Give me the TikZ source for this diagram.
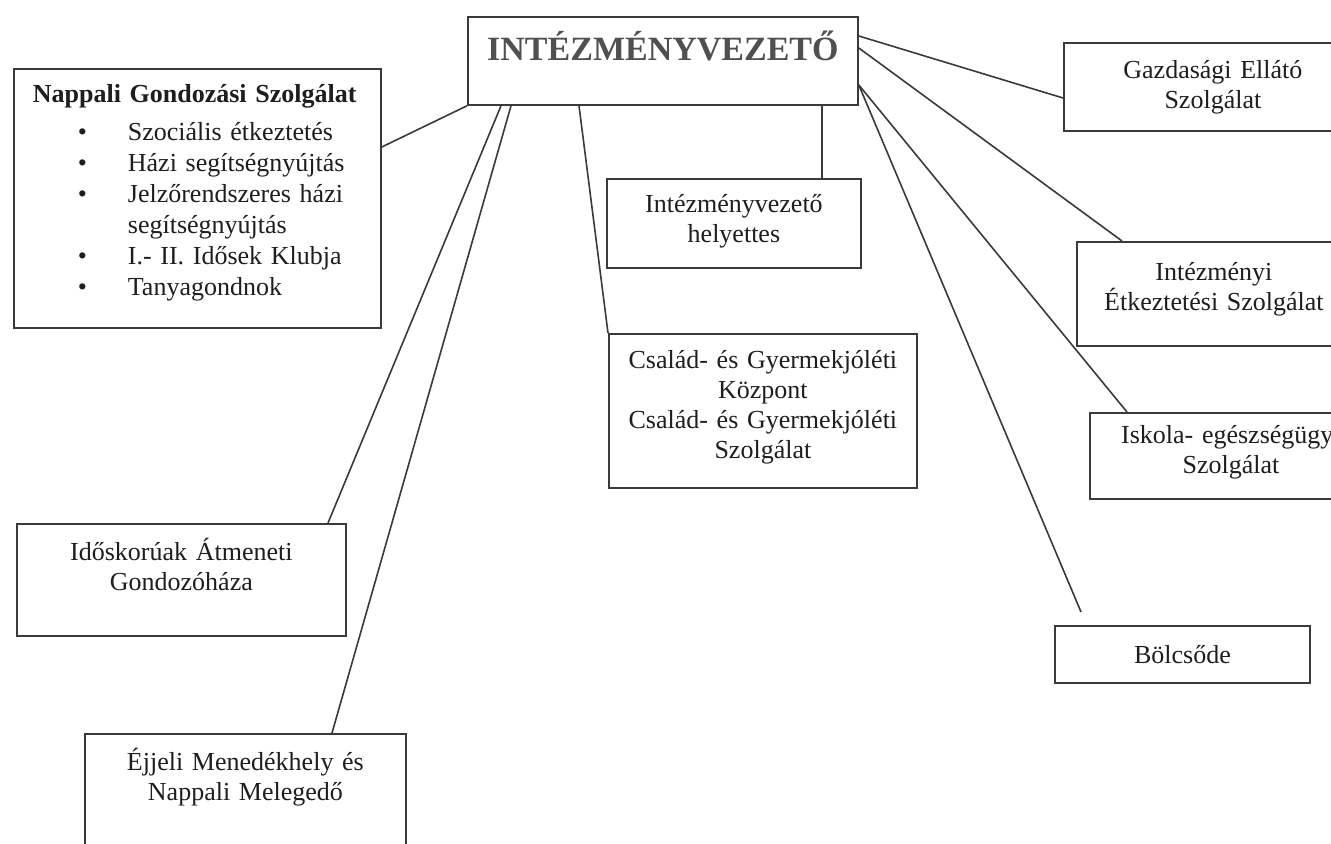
\documentclass[tikz,border=0pt]{standalone}
\usepackage{fontspec}
\setmainfont{Liberation Serif}
\usetikzlibrary{calc}

\definecolor{vonal}{HTML}{3A3A3A}
\definecolor{felirat}{HTML}{1E1E1E}
\definecolor{fejszurke}{HTML}{4F5050}

\newcommand{\listapont}{\makebox[57pt][l]{\hspace*{32pt}\textbullet}}

\tikzset{
  egyseg/.style={
    draw = vonal,
    line width = 0.9pt,
    rectangle,
    inner sep = 0pt,
    align = center,
    anchor = north west,
    text = felirat,
    font = \fontsize{13}{15}\selectfont
  },
  kapcsolat/.style={draw = vonal, line width = 0.8pt}
}

\begin{document}
\begin{tikzpicture}[x=0.5pt, y=-0.5pt]
    \useasboundingbox (0,0) rectangle (1331,844);
    \clip (0,0) rectangle (1331,844);
    \fill[white] (0,0) rectangle (1331,844);

    \node[
    egyseg,
    text width = 195pt,
    text height = 22pt,
    text depth = 22pt,
    text = fejszurke,
    font = \fontsize{17}{20}\selectfont\bfseries
    ] (vezeto) at (467,16){INTÉZMÉNYVEZETŐ};

    \node[
    egyseg,
    align = left,
    text width = 183.5pt,
    text height = 17pt,
    text depth = 112.5pt,
    font = \fontsize{13}{15.5}\selectfont
    ] (nappali) at (13,68){{\bfseries\hspace*{9.5pt}Nappali Gondozási Szolgálat}\\[3.5pt]
      \listapont Szociális étkeztetés\\
      \listapont Házi segítségnyújtás\\
      \listapont Jelzőrendszeres házi\\
      \hspace*{57pt}segítségnyújtás\\
      \listapont I.- II. Idősek Klubja\\
      \listapont Tanyagondnok};

    \node[
    egyseg,
    text width = 127pt,
    text height = 17pt,
    text depth = 27.5pt
    ] (helyettes) at (606,178){Intézményvezető\\helyettes};

    \node[
    egyseg,
    text width = 154pt,
    text height = 17.5pt,
    text depth = 59.5pt
    ] (csalad) at (608,333){Család- és Gyermekjóléti\\Központ\\Család- és Gyermekjóléti\\Szolgálat};

    \node[
    egyseg,
    text width = 149pt,
    text height = 18pt,
    text depth = 26pt
    ] (gazdasagi) at (1063,42){Gazdasági Ellátó\\Szolgálat};

    \node[
    egyseg,
    text width = 137pt,
    text height = 19.5pt,
    text depth = 32.5pt
    ] (intezmenyi) at (1076,241){Intézményi\\Étkeztetési Szolgálat};

    \node[
    egyseg,
    text width = 141pt,
    text height = 15.5pt,
    text depth = 27.5pt
    ] (iskola) at (1089,412){Iskola- egészségügyi\\Szolgálat};

    \node[
    egyseg,
    text width = 127.5pt,
    text height = 19pt,
    text depth = 9.5pt
    ] (bolcsode) at (1054,625){Bölcsőde};

    \node[
    egyseg,
    text width = 164.5pt,
    text height = 18.5pt,
    text depth = 37.5pt
    ] (idoskoruak) at (16,523){Időskorúak Átmeneti\\Gondozóháza};

    \node[
    egyseg,
    text width = 160.5pt,
    text height = 18.5pt,
    text depth = 46.5pt
    ] (ejjeli) at (84,733){Éjjeli Menedékhely és\\Nappali Melegedő};

    % bal oldali ágak
    \draw[kapcsolat] (vezeto.south west) to ($(nappali.north east)+(0,79)$);
    \draw[kapcsolat] ($(vezeto.south west)+(34,0)$) to ($(idoskoruak.north west)+(312,0)$);
    \draw[kapcsolat] ($(vezeto.south west)+(44,0)$) to ($(ejjeli.north west)+(248,0)$);
    \draw[kapcsolat] ($(vezeto.south west)+(112,0)$) to (csalad.north west);
    \draw[kapcsolat] ($(vezeto.south west)+(355,0)$) to ($(helyettes.north west)+(216,0)$);

    % jobb oldali ágak
    \draw[kapcsolat] ($(vezeto.north east)+(0,20)$) to ($(gazdasagi.north west)+(0,56)$);
    \draw[kapcsolat] ($(vezeto.north east)+(0,32)$) to ($(intezmenyi.north west)+(46,0)$);
    \draw[kapcsolat] ($(vezeto.north east)+(0,69)$) to ($(iskola.north west)+(38,0)$);
    \coordinate (bolcsvege) at ($(bolcsode.north west)+(27,-13)$);
    \draw[kapcsolat] ($(vezeto.north east)+(0,69)$) to (bolcsvege);
\end{tikzpicture}
\end{document}
